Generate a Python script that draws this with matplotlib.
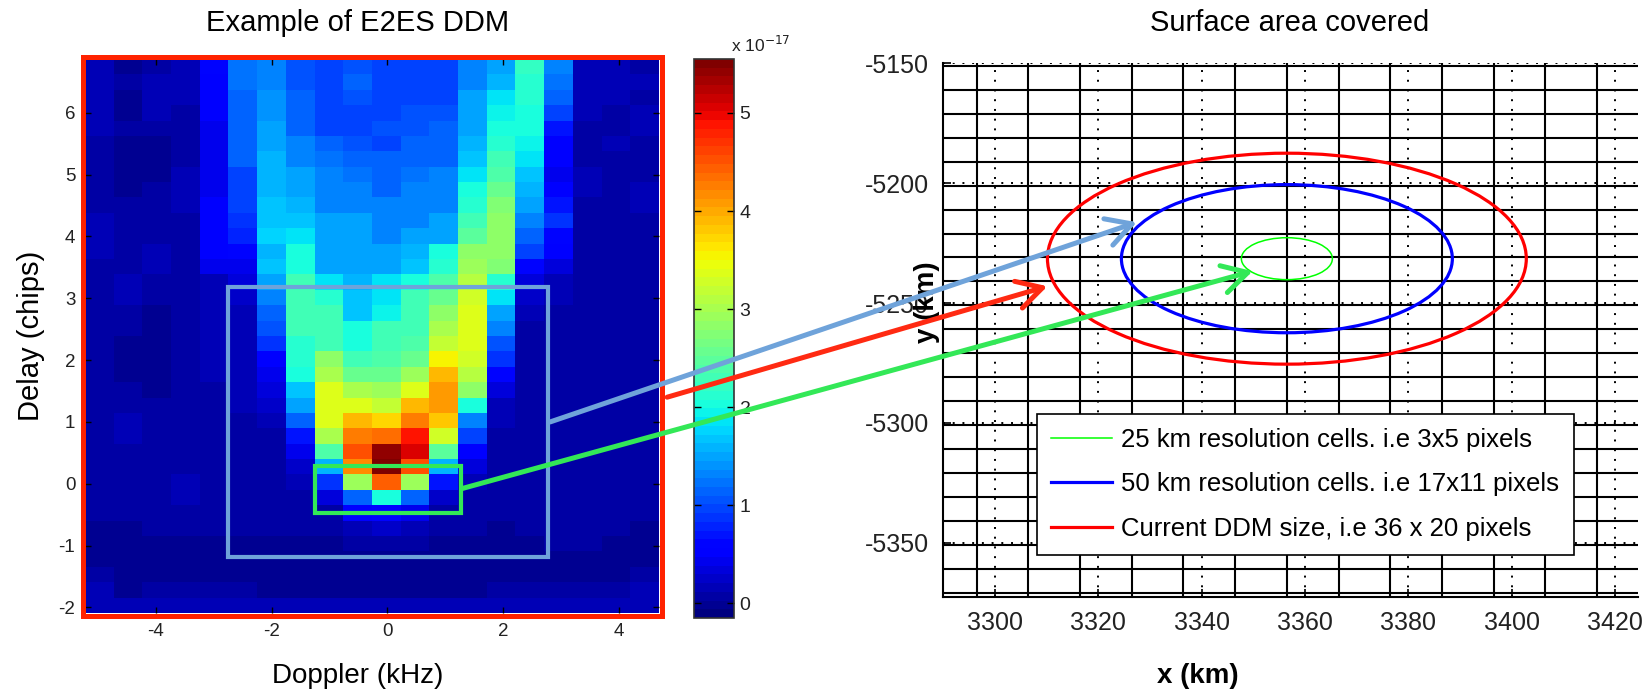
import numpy as np
import matplotlib
matplotlib.use("Agg")
import matplotlib.pyplot as plt
from matplotlib.patches import Rectangle, Ellipse, ConnectionPatch
from matplotlib.lines import Line2D

plt.rcParams['font.family'] = ['Liberation Sans', 'DejaVu Sans']
plt.rcParams['axes.unicode_minus'] = False

W, H = 1648, 697

# DDM power (x 1e-17), 36 delay rows from top (6.87 chips) down, 20 Doppler bins
ddm = [
    [0.12, 0.00, 0.05, 0.12, 0.60, 1.20, 1.28, 1.01, 1.00, 1.05, 1.00, 1.00, 1.00, 1.36, 1.54, 2.20, 1.28, 0.15, 0.12, 0.05],
    [0.15, 0.05, 0.12, 0.12, 0.55, 1.20, 1.36, 1.05, 1.00, 1.10, 1.00, 1.00, 1.00, 1.36, 1.63, 2.16, 1.20, 0.15, 0.12, 0.12],
    [0.15, 0.00, 0.12, 0.12, 0.50, 1.18, 1.40, 1.10, 1.00, 1.05, 1.00, 1.00, 1.00, 1.46, 1.81, 2.10, 1.10, 0.12, 0.12, 0.05],
    [0.15, 0.00, 0.12, 0.05, 0.50, 1.18, 1.45, 1.10, 1.00, 1.00, 1.00, 1.05, 1.05, 1.46, 1.90, 2.05, 0.95, 0.12, 0.05, 0.12],
    [0.12, 0.05, 0.05, 0.05, 0.45, 1.18, 1.50, 1.18, 1.00, 1.00, 1.05, 1.05, 1.10, 1.54, 1.99, 1.99, 0.70, 0.05, 0.05, 0.12],
    [0.05, 0.00, 0.00, 0.05, 0.45, 1.10, 1.50, 1.28, 1.10, 1.05, 1.00, 1.10, 1.10, 1.63, 2.16, 1.90, 0.56, 0.05, 0.12, 0.05],
    [0.05, 0.00, 0.00, 0.05, 0.45, 1.10, 1.55, 1.36, 1.20, 1.10, 1.10, 1.10, 1.18, 1.72, 2.34, 1.81, 0.50, 0.05, 0.05, 0.05],
    [0.05, 0.00, 0.00, 0.12, 0.45, 1.00, 1.60, 1.46, 1.28, 1.20, 1.10, 1.20, 1.28, 1.81, 2.43, 1.72, 0.45, 0.12, 0.05, 0.05],
    [0.05, 0.00, 0.05, 0.12, 0.45, 1.00, 1.63, 1.54, 1.36, 1.30, 1.10, 1.28, 1.28, 1.99, 2.61, 1.63, 0.56, 0.12, 0.05, 0.12],
    [0.05, 0.05, 0.05, 0.12, 0.50, 1.00, 1.70, 1.63, 1.36, 1.36, 1.28, 1.28, 1.36, 2.16, 2.70, 1.46, 0.74, 0.05, 0.05, 0.12],
    [0.12, 0.05, 0.05, 0.05, 0.50, 0.85, 1.72, 1.72, 1.54, 1.46, 1.28, 1.36, 1.46, 2.34, 2.79, 1.28, 0.83, 0.05, 0.05, 0.05],
    [0.12, 0.05, 0.05, 0.05, 0.55, 0.75, 1.80, 1.81, 1.54, 1.54, 1.36, 1.54, 1.54, 2.52, 2.79, 1.10, 0.65, 0.05, 0.05, 0.05],
    [0.12, 0.05, 0.12, 0.05, 0.50, 0.60, 1.63, 1.99, 1.54, 1.54, 1.46, 1.63, 2.05, 2.79, 2.79, 0.92, 0.50, 0.05, 0.05, 0.05],
    [0.05, 0.05, 0.12, 0.05, 0.45, 0.45, 1.72, 1.99, 1.54, 1.54, 1.46, 1.72, 2.16, 2.88, 2.70, 0.65, 0.36, 0.05, 0.05, 0.05],
    [0.05, 0.12, 0.05, 0.05, 0.20, 0.30, 1.46, 2.26, 1.81, 1.63, 1.81, 1.99, 2.43, 3.06, 2.16, 0.36, 0.15, 0.05, 0.05, 0.05],
    [0.05, 0.12, 0.05, 0.05, 0.15, 0.25, 1.36, 2.34, 2.16, 1.72, 1.81, 2.34, 2.61, 3.24, 1.81, 0.25, 0.12, 0.05, 0.05, 0.05],
    [0.05, 0.05, 0.00, 0.05, 0.12, 0.20, 1.18, 2.26, 2.26, 1.72, 1.90, 2.26, 2.79, 3.41, 1.54, 0.15, 0.05, 0.05, 0.05, 0.05],
    [0.05, 0.05, 0.00, 0.05, 0.12, 0.20, 1.01, 2.26, 2.34, 1.99, 2.26, 2.34, 2.97, 3.41, 1.28, 0.05, 0.05, 0.05, 0.05, 0.05],
    [0.05, 0.00, 0.00, 0.05, 0.12, 0.20, 0.83, 2.16, 2.34, 2.00, 2.34, 2.43, 3.15, 3.41, 1.01, 0.05, 0.05, 0.05, 0.05, 0.05],
    [0.05, 0.00, 0.00, 0.05, 0.12, 0.15, 0.56, 2.16, 2.79, 2.26, 2.43, 2.61, 3.59, 3.24, 0.83, 0.05, 0.05, 0.05, 0.05, 0.05],
    [0.05, 0.00, 0.00, 0.05, 0.12, 0.15, 0.42, 1.99, 2.97, 2.61, 2.61, 2.88, 3.86, 3.06, 0.65, 0.05, 0.05, 0.05, 0.05, 0.05],
    [0.05, 0.05, 0.00, 0.05, 0.05, 0.15, 0.36, 1.72, 3.33, 2.97, 2.88, 3.41, 4.04, 2.79, 0.36, 0.05, 0.05, 0.05, 0.05, 0.05],
    [0.05, 0.05, 0.05, 0.05, 0.05, 0.12, 0.25, 1.54, 3.41, 3.33, 3.15, 3.86, 4.04, 1.99, 0.20, 0.05, 0.05, 0.05, 0.05, 0.05],
    [0.05, 0.12, 0.05, 0.05, 0.05, 0.05, 0.12, 1.10, 3.33, 3.86, 3.68, 4.30, 3.77, 1.36, 0.12, 0.05, 0.05, 0.05, 0.05, 0.05],
    [0.05, 0.12, 0.05, 0.05, 0.05, 0.05, 0.05, 0.74, 2.97, 4.30, 4.39, 4.84, 3.24, 0.92, 0.05, 0.05, 0.05, 0.05, 0.05, 0.05],
    [0.05, 0.05, 0.05, 0.05, 0.05, 0.05, 0.05, 0.42, 2.43, 4.57, 5.38, 5.10, 2.52, 0.56, 0.05, 0.05, 0.05, 0.05, 0.05, 0.05],
    [0.05, 0.05, 0.05, 0.05, 0.05, 0.05, 0.05, 0.25, 1.63, 4.13, 5.55, 4.57, 1.63, 0.36, 0.05, 0.05, 0.05, 0.05, 0.05, 0.05],
    [0.05, 0.05, 0.05, 0.12, 0.05, 0.05, 0.05, 0.12, 0.83, 2.88, 4.48, 2.88, 0.74, 0.15, 0.05, 0.05, 0.05, 0.05, 0.05, 0.05],
    [0.05, 0.05, 0.05, 0.12, 0.05, 0.05, 0.05, 0.05, 0.36, 1.10, 1.99, 1.10, 0.25, 0.05, 0.05, 0.05, 0.05, 0.05, 0.05, 0.05],
    [0.05, 0.05, 0.05, 0.05, 0.05, 0.05, 0.05, 0.05, 0.05, 0.50, 0.65, 0.42, 0.05, 0.05, 0.05, 0.05, 0.05, 0.05, 0.05, 0.05],
    [0.00, 0.00, 0.05, 0.05, 0.05, 0.05, 0.05, 0.05, 0.05, 0.20, 0.25, 0.20, 0.05, 0.05, 0.00, 0.05, 0.05, 0.05, 0.05, 0.00],
    [0.00, 0.00, 0.00, 0.00, 0.00, 0.00, 0.00, 0.00, 0.00, 0.05, 0.05, 0.05, 0.00, 0.00, 0.00, 0.00, 0.05, 0.05, 0.00, 0.00],
    [0.00, -0.05, -0.05, 0.00, 0.00, 0.00, 0.00, 0.00, 0.00, 0.00, 0.00, 0.00, 0.00, 0.00, 0.00, 0.00, 0.00, 0.00, 0.00, 0.00],
    [0.05, 0.00, -0.05, -0.05, 0.00, 0.00, 0.00, 0.00, 0.00, 0.00, 0.00, 0.00, 0.00, 0.00, 0.00, 0.00, 0.00, 0.00, 0.00, 0.05],
    [0.12, 0.00, 0.05, 0.05, 0.05, 0.05, 0.00, 0.00, 0.00, 0.00, 0.00, 0.00, 0.00, 0.00, 0.05, 0.05, 0.05, 0.05, 0.05, 0.12],
    [0.12, 0.12, 0.15, 0.15, 0.12, 0.12, 0.12, 0.12, 0.12, 0.12, 0.12, 0.12, 0.12, 0.12, 0.15, 0.15, 0.20, 0.20, 0.15, 0.15],
]
doppler_range = (-5.22, 4.69)
delay_range = (-2.09, 6.87)
power_range = (-0.15, 5.55)

# boxes drawn on the DDM: (x0, x1, y0, y1)
box_50km = (-2.75, 2.78, -1.18, 3.19)
box_25km = (-1.25, 1.27, -0.48, 0.28)

# surface footprint (km)
cell_x = [3296.5, 3306.5, 3316.5, 3326.5, 3336.5, 3346.5, 3356.5, 3366.5, 3376.5,
          3386.5, 3396.5, 3406.5, 3416.5]
cell_y = [-5151, -5161, -5171, -5181, -5191, -5201, -5211, -5221, -5231, -5241, -5251,
          -5261, -5271, -5281, -5291, -5301, -5311, -5321, -5331, -5341, -5351, -5361, -5371]
centre = (3356.5, -5231.5)
footprints = ['25 km resolution cells. i.e 3x5 pixels',
              '50 km resolution cells. i.e 17x11 pixels',
              'Current DDM size, i.e 36 x 20 pixels']
half_x = [8.8, 32.0, 46.3]
half_y = [8.75, 30.9, 44.0]
colors = ['#00ff00', '#0000ff', '#ff0000']
widths = [1.1, 2.3, 2.3]

# arrow ends: (ddm point, surface point)
arrows = [((2.81, 1.00), (3327.5, -5216.3), '#6fa3da'),
          ((4.83, 1.40), (3310.2, -5243.0), '#ff2a12'),
          ((1.28, -0.08), (3349.9, -5236.7), '#33e857')]


def frac(x0, y0, x1, y1):
    return [x0 / W, 1 - y1 / H, (x1 - x0) / W, (y1 - y0) / H]


fig = plt.figure(figsize=(W / 100, H / 100), dpi=100)
ax1 = fig.add_axes(frac(85, 59, 659, 613))
cax = fig.add_axes(frac(694, 59, 734, 618))
ax2 = fig.add_axes(frac(943, 63.3, 1638, 596.7))

# ---- DDM ----
cmap = plt.get_cmap('jet', 64)
im = ax1.imshow(np.array(ddm), cmap=cmap, vmin=power_range[0], vmax=power_range[1],
                extent=[doppler_range[0], doppler_range[1], delay_range[0], delay_range[1]],
                aspect='auto', interpolation='nearest', origin='upper')
ax1.set_xlim(doppler_range)
ax1.set_ylim(delay_range)
ax1.set_xticks([-4, -2, 0, 2, 4])
ax1.set_yticks([-2, -1, 0, 1, 2, 3, 4, 5, 6])
ax1.tick_params(direction='in', length=4, width=1, top=True, right=True,
                labelsize=13.5, labelcolor='#222222', pad=7)
for s in ax1.spines.values():
    s.set_visible(False)

for (x0, x1, y0, y1), c in [(box_50km, '#6fa3da'), (box_25km, '#33e857')]:
    ax1.add_patch(Rectangle((x0, y0), x1 - x0, y1 - y0, fill=False, ec=c, lw=3.0, zorder=3))

fig.add_artist(Rectangle((82.5 / W, 1 - 616 / H), 579 / W, 559 / H, fill=False,
                         ec='#ff2200', lw=3.6, transform=fig.transFigure, zorder=4))

fig.text(358 / W, 1 - 23 / H, 'Example of E2ES DDM', ha='center', va='center', fontsize=21)
fig.text(358 / W, 1 - 676 / H, 'Doppler (kHz)', ha='center', va='center', fontsize=20)
fig.text(31 / W, 1 - 336 / H, 'Delay (chips)', ha='center', va='center', fontsize=21,
         rotation=90)

# ---- colorbar ----
cb = fig.colorbar(im, cax=cax)
cb.set_ticks([0, 1, 2, 3, 4, 5])
cb.outline.set_edgecolor('#333333')
cb.outline.set_linewidth(1.2)
cax.tick_params(direction='in', length=5, width=1, left=True, right=True,
                labelsize=14, labelcolor='#222222', pad=4)
fig.text(731 / W, 1 - 45 / H, r'x 10$^{-17}$', ha='left', va='center', fontsize=12.5,
         color='#222222')

# ---- surface area ----
for v in cell_x:
    ax2.axvline(v, color='black', lw=1.5, zorder=1)
for v in cell_y:
    ax2.axhline(v, color='black', lw=1.5, zorder=1)
ax2.grid(True, color='black', linestyle=(0, (1, 4)), lw=1.4, zorder=1)
ax2.set_axisbelow(True)

handles = []
for lab, a, b, c, lw in zip(footprints, half_x, half_y, colors, widths):
    ax2.add_patch(Ellipse(centre, 2 * a, 2 * b, fill=False, ec=c, lw=lw, zorder=3))
    handles.append(Line2D([], [], color=c, lw=lw, label=lab))

ax2.set_xlim(3290, 3424.4)
ax2.set_ylim(-5372.5, -5150)
ax2.set_xticks(range(3300, 3421, 20))
ax2.set_yticks(range(-5350, -5149, 50))
ax2.tick_params(direction='in', length=6, width=1.2, labelsize=18, labelcolor='#222222', pad=10)
ax2.spines['top'].set_visible(False)
ax2.spines['right'].set_visible(False)
ax2.spines['left'].set_linewidth(1.5)
ax2.spines['bottom'].set_linewidth(1.5)

leg = ax2.legend(handles=handles, loc='upper left', bbox_to_anchor=(3308.1, -5296.2),
                 bbox_transform=ax2.transData, borderaxespad=0, fontsize=18.5,
                 fancybox=False, edgecolor='black', framealpha=1, handlelength=2.4,
                 handletextpad=0.35, labelspacing=0.8, borderpad=0.55)
leg.get_frame().set_linewidth(1.2)
leg.set_zorder(5)

fig.text(1290 / W, 1 - 23 / H, 'Surface area covered', ha='center', va='center', fontsize=21)
fig.text(1198 / W, 1 - 676 / H, 'x (km)', ha='center', va='center', fontsize=20,
         fontweight='bold')
fig.text(927 / W, 1 - 302 / H, 'y (km)', ha='center', va='center', fontsize=20,
         fontweight='bold', rotation=90)

# ---- arrows ----
for start, end, c in arrows:
    con = ConnectionPatch(xyA=start, coordsA=ax1.transData, xyB=end, coordsB=ax2.transData,
                          arrowstyle='->,head_length=0.9,head_width=0.5', mutation_scale=20,
                          color=c, lw=3.6, zorder=6)
    fig.add_artist(con)

fig.savefig('out.png', dpi=100)
